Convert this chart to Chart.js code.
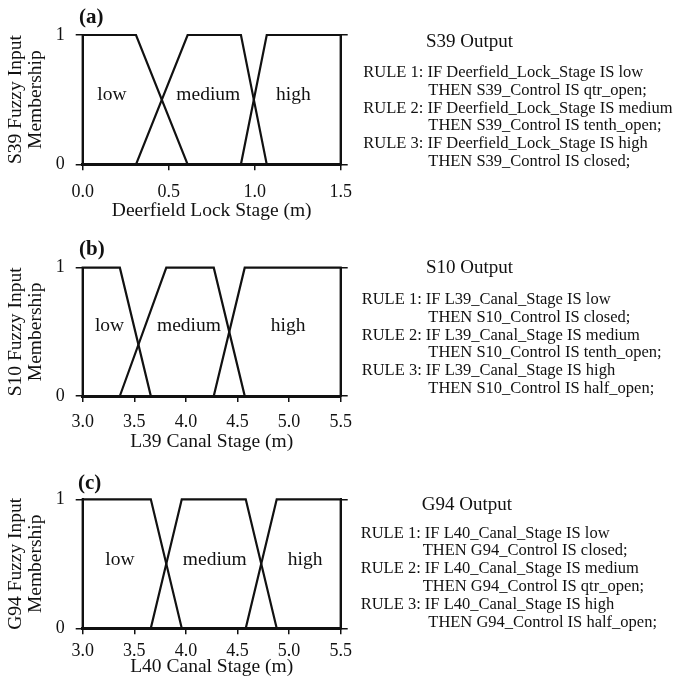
<!DOCTYPE html>
<html>
<head>
<meta charset="utf-8">
<script src="https://cdn.jsdelivr.net/npm/chart.js@4/dist/chart.umd.min.js"></script>
<style>
  html, body { margin: 0; padding: 0; background: #fff; }
  body { width: 676px; height: 686px; position: relative; overflow: hidden; }
  canvas { position: absolute; left: 0; }
</style>
</head>
<body>
<canvas id="panelA" width="676" height="236" style="top:0px"></canvas>
<canvas id="panelB" width="676" height="236" style="top:225px"></canvas>
<canvas id="panelC" width="676" height="236" style="top:450px"></canvas>
<script>
// Membership trapezoids: [zero-start, full-start, full-end, zero-end] in metres of stage
const s39Low    = [0.0, 0.0, 0.31, 0.61];
const s39Medium = [0.31, 0.61, 0.92, 1.07];
const s39High   = [0.92, 1.07, 1.5, 1.5];

const s10Low    = [3.0, 3.0, 3.36, 3.66];
const s10Medium = [3.36, 3.81, 4.27, 4.57];
const s10High   = [4.27, 4.57, 5.5, 5.5];

const g94Low    = [3.0, 3.0, 3.66, 3.96];
const g94Medium = [3.66, 3.96, 4.58, 4.88];
const g94High   = [4.58, 4.88, 5.5, 5.5];

// Axis ticks
const lockStageTicks  = [0.0, 0.5, 1.0, 1.5];
const canalStageTicks = [3.0, 3.5, 4.0, 4.5, 5.0, 5.5];
const membershipTicks = [0, 1];

// Fuzzy class names and where each name is written along the stage axis
const classNames = ['low', 'medium', 'high'];
const s39NameAt = [0.17, 0.73, 1.225];
const s10NameAt = [3.26, 4.03, 4.99];
const g94NameAt = [3.36, 4.28, 5.155];

// Rule bases for each structure
const s39Rules = [
  'RULE 1: IF Deerfield_Lock_Stage IS low',
  'THEN S39_Control IS qtr_open;',
  'RULE 2: IF Deerfield_Lock_Stage IS medium',
  'THEN S39_Control IS tenth_open;',
  'RULE 3: IF Deerfield_Lock_Stage IS high',
  'THEN S39_Control IS closed;'
];
const s10Rules = [
  'RULE 1: IF L39_Canal_Stage IS low',
  'THEN S10_Control IS closed;',
  'RULE 2: IF L39_Canal_Stage IS medium',
  'THEN S10_Control IS tenth_open;',
  'RULE 3: IF L39_Canal_Stage IS high',
  'THEN S10_Control IS half_open;'
];
const g94Rules = [
  'RULE 1: IF L40_Canal_Stage IS low',
  'THEN G94_Control IS closed;',
  'RULE 2: IF L40_Canal_Stage IS medium',
  'THEN G94_Control IS qtr_open;',
  'RULE 3: IF L40_Canal_Stage IS high',
  'THEN G94_Control IS half_open;'
];

const SERIF = "'Liberation Serif', 'Times New Roman', serif";
const INK = '#111';

// closed outline of a trapezoidal membership function
function trapezoid(p) {
  return [
    { x: p[0], y: 0 }, { x: p[1], y: 1 }, { x: p[2], y: 1 },
    { x: p[3], y: 0 }, { x: p[0], y: 0 }
  ];
}

function fixedTicks(values) {
  return scale => { scale.ticks = values.map(v => ({ value: v })); };
}

// Writes the panel letter, the class names and the rule block
const panelText = {
  id: 'panelText',
  afterDraw(chart, args, o) {
    const ctx = chart.ctx;
    const xs = chart.scales.x, ys = chart.scales.y;
    ctx.save();
    ctx.fillStyle = INK;
    ctx.textBaseline = 'middle';

    ctx.textAlign = 'left';
    ctx.font = `bold 21px ${SERIF}`;
    ctx.fillText(o.letter, o.letterX, o.letterY);

    ctx.textAlign = 'center';
    ctx.font = `19.5px ${SERIF}`;
    o.nameAt.forEach((v, i) => {
      ctx.fillText(classNames[i], xs.getPixelForValue(v), ys.getPixelForValue(o.nameLevel));
    });

    ctx.textAlign = 'left';
    ctx.font = `19px ${SERIF}`;
    ctx.fillText(o.heading, o.headX, o.headY);

    ctx.font = `16.5px ${SERIF}`;
    o.rules.forEach((line, i) => {
      const lx = (i % 2 === 1) ? o.thenX[(i - 1) / 2] : o.ruleX;
      ctx.fillText(line, lx, o.ruleY + i * o.ruleStep);
    });
    ctx.restore();
  }
};

function buildPanel(id, spec) {
  const datasets = spec.sets.map((p, i) => ({
    label: classNames[i],
    data: trapezoid(p),
    showLine: true,
    borderColor: INK,
    borderWidth: 2.2,
    pointRadius: 0,
    fill: false,
    tension: 0,
    clip: false
  }));
  const tickGrid = len => ({
    drawOnChartArea: false, drawTicks: true, tickLength: len, color: INK, lineWidth: 1.5
  });
  return new Chart(document.getElementById(id), {
    type: 'scatter',
    data: { datasets },
    options: {
      responsive: false,
      animation: false,
      events: [],
      layout: { padding: { left: 0, top: spec.top, right: 676 - 340.7 - 8, bottom: 0 } },
      plugins: {
        legend: { display: false },
        tooltip: { enabled: false },
        panelText: spec.text
      },
      scales: {
        x: {
          type: 'linear', position: 'bottom',
          min: spec.ticks[0], max: spec.ticks[spec.ticks.length - 1],
          afterBuildTicks: fixedTicks(spec.ticks),
          afterFit: s => { s.height = 236 - spec.bottom; },
          grid: tickGrid(6),
          border: { display: true, color: INK, width: 3 },
          ticks: {
            color: INK, font: { family: SERIF, size: 18 }, padding: spec.tickPad,
            maxRotation: 0, autoSkip: false, callback: v => Number(v).toFixed(1)
          },
          title: {
            display: true, text: spec.xTitle, color: INK,
            font: { family: SERIF, size: 19.5 },
            padding: { top: 0, bottom: spec.titlePad }
          }
        },
        y: {
          type: 'linear', position: 'left', min: 0, max: 1,
          afterBuildTicks: fixedTicks(membershipTicks),
          afterFit: s => { s.width = 82.7; },
          grid: tickGrid(7),
          border: { display: true, color: INK, width: 2 },
          ticks: { color: INK, font: { family: SERIF, size: 18 }, padding: 11, callback: v => String(v) },
          title: {
            display: true, text: spec.yTitle, color: INK,
            font: { family: SERIF, size: 19.5, lineHeight: 1.0 },
            padding: { top: 6.5, bottom: 0 }
          }
        },
        yMirror: {
          type: 'linear', position: 'right', min: 0, max: 1,
          afterBuildTicks: fixedTicks(membershipTicks),
          afterFit: s => { s.width = 8; },
          grid: tickGrid(7),
          border: { display: true, color: INK, width: 2 },
          ticks: { display: false }
        }
      }
    },
    plugins: [panelText]
  });
}

buildPanel('panelA', {
  sets: [s39Low, s39Medium, s39High],
  ticks: lockStageTicks,
  top: 35, bottom: 164.3, tickPad: 10.9, titlePad: 13.6,
  xTitle: 'Deerfield Lock Stage (m)',
  yTitle: ['S39 Fuzzy Input', 'Membership'],
  text: {
    letter: '(a)', letterX: 79, letterY: 18,
    nameAt: s39NameAt, nameLevel: 0.535,
    heading: 'S39 Output', headX: 426, headY: 41.7,
    rules: s39Rules, ruleX: 363.3, thenX: [428.3, 428.3, 428.3], ruleY: 73, ruleStep: 17.7
  }
});

buildPanel('panelB', {
  sets: [s10Low, s10Medium, s10High],
  ticks: canalStageTicks,
  top: 42.7, bottom: 171, tickPad: 9.5, titlePad: 7.6,
  xTitle: 'L39 Canal Stage (m)',
  yTitle: ['S10 Fuzzy Input', 'Membership'],
  text: {
    letter: '(b)', letterX: 79, letterY: 25,
    nameAt: s10NameAt, nameLevel: 0.548,
    heading: 'S10 Output', headX: 426, headY: 43.3,
    rules: s10Rules, ruleX: 361.7, thenX: [428.3, 428.3, 428.3], ruleY: 75, ruleStep: 17.7
  }
});

buildPanel('panelC', {
  sets: [g94Low, g94Medium, g94High],
  ticks: canalStageTicks,
  top: 49.3, bottom: 178.3, tickPad: 5.7, titlePad: 7.6,
  xTitle: 'L40 Canal Stage (m)',
  yTitle: ['G94 Fuzzy Input', 'Membership'],
  text: {
    letter: '(c)', letterX: 78, letterY: 33.3,
    nameAt: g94NameAt, nameLevel: 0.534,
    heading: 'G94 Output', headX: 421.7, headY: 55,
    rules: g94Rules, ruleX: 360.7, thenX: [422.7, 422.7, 428.3], ruleY: 83.3, ruleStep: 17.8
  }
});
</script>
</body>
</html>
